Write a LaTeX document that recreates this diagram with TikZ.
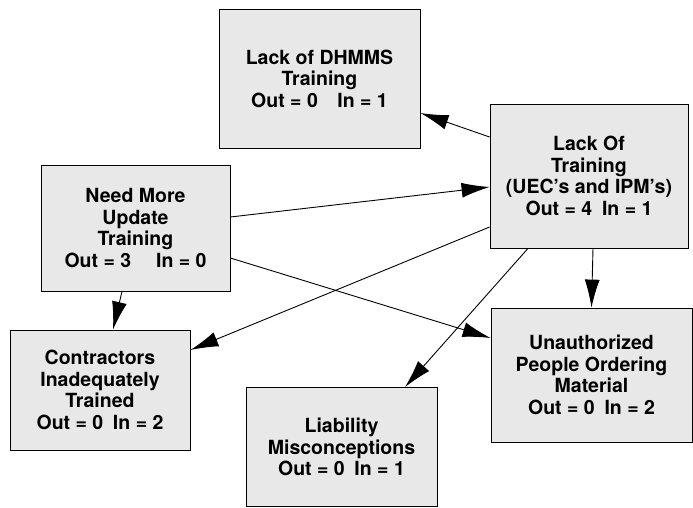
\documentclass[tikz,border=0pt]{standalone}
\usepackage{fontspec}
\setmainfont{TeX Gyre Heros}
\usetikzlibrary{arrows.meta}
\begin{document}
\begin{tikzpicture}[x=1pt,y=-1pt,
  box/.style={draw=black, line width=0.8pt, fill=gray!18, align=center, inner sep=0pt,
    font=\bfseries\fontsize{19.5}{21.5}\selectfont},
  conn/.style={line width=0.9pt, -{Latex[length=28pt,width=15pt]}}]
\useasboundingbox (0,0) rectangle (693,507);
\node[box, minimum width=201pt, minimum height=139pt] (dh) at (319.5,78.5) {Lack of DHMMS\\Training\\Out = 0\quad In = 1};
\node[box, minimum width=198pt, minimum height=144pt] (lot) at (589,176) {Lack Of\\Training\\(UEC's and IPM's)\\Out = 4\enspace In = 1};
\node[box, minimum width=189pt, minimum height=126pt] (nm) at (135.5,228) {Need More\\Update\\Training\\Out = 3\quad\ In = 0};
\node[box, minimum width=180pt, minimum height=120pt] (ct) at (100,390) {Contractors\\Inadequately\\Trained\\Out = 0\enspace In = 2};
\node[box, minimum width=191pt, minimum height=119pt] (li) at (341.5,447) {Liability\\Misconceptions\\Out = 0\enspace In = 1};
\node[box, minimum width=201pt, minimum height=134pt] (un) at (591.5,375) {Unauthorized\\People Ordering\\Material\\Out = 0\enspace In = 2};
\draw[conn] ([yshift=39pt]lot.west) -- ([yshift=-34.5pt]dh.east);
\draw[conn] ([yshift=11pt]nm.east) -- ([yshift=-11pt]lot.west);
\draw[conn] ([yshift=-30pt]nm.east) -- ([yshift=37pt]un.west);
\draw[conn] ([xshift=-13.5pt]nm.south) -- ([xshift=13pt]ct.north);
\draw[conn] ([yshift=-51pt]lot.west) -- ([yshift=40pt]ct.east);
\draw[conn] ([xshift=-61pt]lot.south) -- ([xshift=63.5pt]li.north);
\draw[conn] ([xshift=4pt]lot.south) -- ([xshift=0pt]un.north);
\end{tikzpicture}
\end{document}
